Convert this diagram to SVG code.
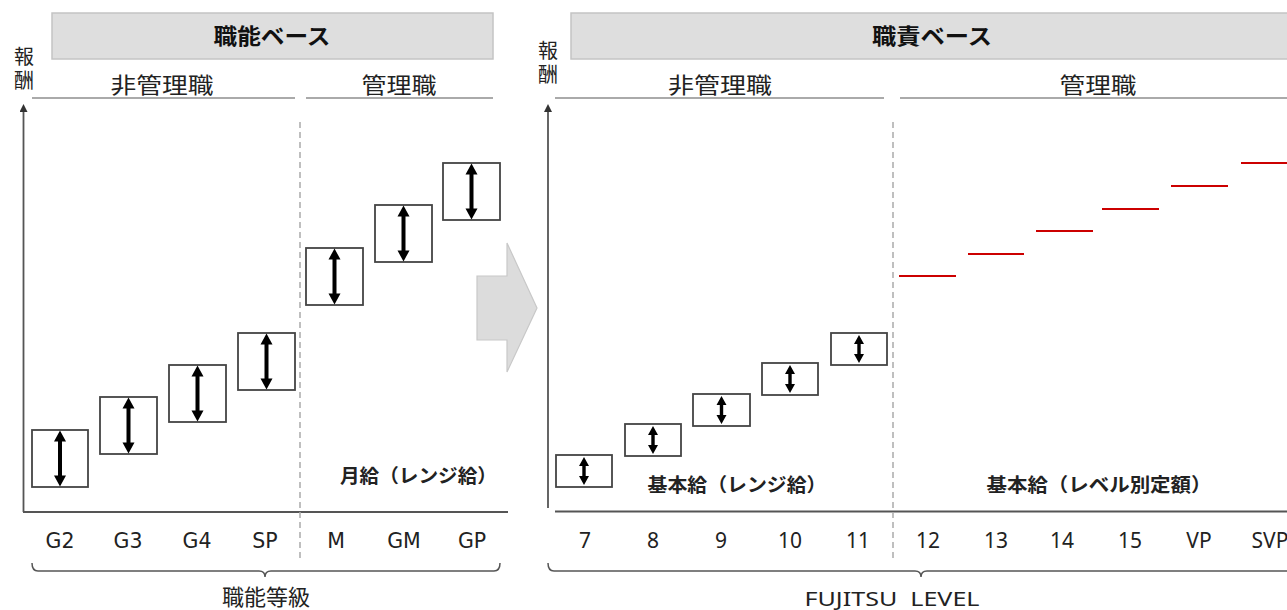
<svg xmlns="http://www.w3.org/2000/svg" width="1287" height="610" viewBox="0 0 1287 610">
<style>
.hdr{fill:#dedede;stroke:#c4c4c4;stroke-width:1.5}
.ht{font-family:"Noto Sans CJK JP",sans-serif;font-weight:bold;font-size:22px;fill:#111;text-anchor:middle}
.cat{font-family:"Noto Sans CJK JP",sans-serif;font-size:22px;fill:#222;text-anchor:middle}
.ax{font-family:"Noto Sans CJK JP",sans-serif;font-size:20px;fill:#222;writing-mode:vertical-rl;letter-spacing:4px}
.sep{stroke:#aaa;stroke-width:2;fill:none}
.dash{stroke:#aaa;stroke-width:1.5;stroke-dasharray:6 4;fill:none}
.axis{stroke:#555;stroke-width:1.8;fill:none}
.box{fill:#fff;stroke:#444;stroke-width:1.8}
.lbl{font-family:"DejaVu Sans",sans-serif;font-size:20.5px;fill:#222;text-anchor:middle}
.lbr{font-family:"Noto Sans",sans-serif;font-size:21px;fill:#222;text-anchor:middle}
.pay{font-family:"Noto Sans CJK JP",sans-serif;font-weight:bold;font-size:19px;fill:#222}
.red{stroke:#cc0000;stroke-width:2.2}
.brk{stroke:#555;stroke-width:1.5;fill:none}
</style>
<defs>
<path id="dblL" d="M0,-28 L6,-17 L2,-17 L2,17 L6,17 L0,28 L-6,17 L-2,17 L-2,-17 L-6,-17 Z" fill="#000"/>
<path id="dblR" d="M0,-14 L5,-5 L1.7,-5 L1.7,5 L5,5 L0,14 L-5,5 L-1.7,5 L-1.7,-5 L-5,-5 Z" fill="#000"/>
<marker id="ah" viewBox="0 0 10 10" refX="5" refY="5" markerWidth="8" markerHeight="8" markerUnits="userSpaceOnUse" orient="auto"><path d="M0,0 L10,5 L0,10 Z" fill="#333"/></marker>
</defs>

<!-- Left panel -->
<g id="hdr-left"><rect class="hdr" x="52" y="13" width="441" height="46"/><text class="ht" x="272" y="44" textLength="117" lengthAdjust="spacingAndGlyphs">職能ベース</text></g>
<g id="ylabel-left"><text class="ax" x="24" y="46">報酬</text></g>
<g id="cat-left-non"><text class="cat" x="162" y="93" textLength="103" lengthAdjust="spacingAndGlyphs">非管理職</text><line class="sep" x1="32" y1="98" x2="295" y2="98"/></g>
<g id="cat-left-mgr"><text class="cat" x="399" y="93" textLength="75" lengthAdjust="spacingAndGlyphs">管理職</text><line class="sep" x1="306" y1="98" x2="493" y2="98"/></g>

<g id="connectors">
<line class="axis" x1="23.5" y1="512" x2="23.5" y2="108" marker-end="url(#ah)"/>
<line class="axis" x1="23" y1="512" x2="508" y2="512"/>
<line class="dash" x1="300" y1="122" x2="300" y2="560"/>
<line class="axis" x1="548" y1="508" x2="548" y2="108" marker-end="url(#ah)"/>
<line class="axis" x1="555" y1="511.5" x2="1287" y2="511.5"/>
<line class="dash" x1="893" y1="122" x2="893" y2="560"/>
<path class="brk" d="M32,563 Q32,571 38,571 L259,571 Q265,571 265,577 Q265,571 271,571 L494,571 Q500,571 500,563"/>
<path class="brk" d="M548,563 Q548,571 554,571 L915,571 Q921,571 921,577 Q921,571 927,571 L1300,571"/>
</g>

<g id="box-G2"><rect class="box" x="32" y="430" width="56" height="57"/><use href="#dblL" x="60" y="458.5"/></g>
<g id="box-G3"><rect class="box" x="100" y="397" width="57" height="57"/><use href="#dblL" x="128.5" y="425.5"/></g>
<g id="box-G4"><rect class="box" x="169" y="365" width="57" height="57"/><use href="#dblL" x="197.5" y="393.5"/></g>
<g id="box-SP"><rect class="box" x="238" y="333" width="57" height="57"/><use href="#dblL" x="266.5" y="361.5"/></g>
<g id="box-M"><rect class="box" x="306" y="248" width="57" height="57"/><use href="#dblL" x="334.5" y="276.5"/></g>
<g id="box-GM"><rect class="box" x="375" y="205" width="57" height="57"/><use href="#dblL" x="403.5" y="233.5"/></g>
<g id="box-GP"><rect class="box" x="443" y="163" width="57" height="57"/><use href="#dblL" x="471.5" y="191.5"/></g>

<g id="pay-left"><text class="pay" x="497" y="483" text-anchor="end" textLength="157" lengthAdjust="spacingAndGlyphs">月給（レンジ給）</text></g>

<g id="xlabels-left">
<text class="lbl" x="60" y="548">G2</text><text class="lbl" x="128" y="548">G3</text><text class="lbl" x="197" y="548">G4</text><text class="lbl" x="265" y="548">SP</text>
<text class="lbl" x="336" y="548">M</text><text class="lbl" x="404" y="548">GM</text><text class="lbl" x="472" y="548">GP</text>
</g>
<g id="axis-title-left"><text class="cat" x="266" y="605" textLength="88" lengthAdjust="spacingAndGlyphs">職能等級</text></g>

<!-- Transition arrow -->
<g id="transition"><polygon points="477,276 507,276 507,243 537,308 507,372 507,340 477,340" fill="#dcdcdc" stroke="#c8c8c8" stroke-width="1.2"/></g>

<!-- Right panel -->
<g id="hdr-right"><rect class="hdr" x="571" y="13" width="730" height="46"/><text class="ht" x="932" y="44" textLength="120" lengthAdjust="spacingAndGlyphs">職責ベース</text></g>
<g id="ylabel-right"><text class="ax" x="548" y="40">報酬</text></g>
<g id="cat-right-non"><text class="cat" x="720" y="93" textLength="104" lengthAdjust="spacingAndGlyphs">非管理職</text><line class="sep" x1="555" y1="98" x2="884" y2="98"/></g>
<g id="cat-right-mgr"><text class="cat" x="1098" y="93" textLength="77" lengthAdjust="spacingAndGlyphs">管理職</text><line class="sep" x1="900" y1="98" x2="1287" y2="98"/></g>

<g id="box-7"><rect class="box" x="556" y="455" width="56" height="32"/><use href="#dblR" x="584" y="471"/></g>
<g id="box-8"><rect class="box" x="625" y="424" width="56" height="32"/><use href="#dblR" x="653" y="440"/></g>
<g id="box-9"><rect class="box" x="693" y="394" width="57" height="32"/><use href="#dblR" x="721.5" y="410"/></g>
<g id="box-10"><rect class="box" x="762" y="363" width="56" height="32"/><use href="#dblR" x="790" y="379"/></g>
<g id="box-11"><rect class="box" x="831" y="333" width="56" height="32"/><use href="#dblR" x="859" y="349"/></g>

<g id="level-12"><line class="red" x1="899" y1="276" x2="956" y2="276"/></g>
<g id="level-13"><line class="red" x1="968" y1="254" x2="1024" y2="254"/></g>
<g id="level-14"><line class="red" x1="1036" y1="231" x2="1093" y2="231"/></g>
<g id="level-15"><line class="red" x1="1102" y1="209" x2="1159" y2="209"/></g>
<g id="level-VP"><line class="red" x1="1171" y1="186" x2="1228" y2="186"/></g>
<g id="level-SVP"><line class="red" x1="1241" y1="163" x2="1290" y2="163"/></g>

<g id="pay-right-range"><text class="pay" x="737" y="492" text-anchor="middle" textLength="179" lengthAdjust="spacingAndGlyphs">基本給（レンジ給）</text></g>
<g id="pay-right-fixed"><text class="pay" x="1099" y="492" text-anchor="middle" textLength="225" lengthAdjust="spacingAndGlyphs">基本給（レベル別定額）</text></g>

<g id="xlabels-right">
<text class="lbr" x="585" y="548">7</text><text class="lbr" x="653" y="548">8</text><text class="lbr" x="721" y="548">9</text><text class="lbr" x="790" y="548">10</text><text class="lbr" x="858" y="548">11</text>
<text class="lbr" x="928" y="548">12</text><text class="lbr" x="996" y="548">13</text><text class="lbr" x="1062" y="548">14</text><text class="lbr" x="1130" y="548">15</text><text class="lbr" x="1199" y="548">VP</text><text class="lbr" x="1270" y="548">SVP</text>
</g>
<g id="axis-title-right"><text class="lbr" x="892" y="606" textLength="175" lengthAdjust="spacingAndGlyphs" style="font-size:20px" xml:space="preserve">FUJITSU  LEVEL</text></g>
</svg>
